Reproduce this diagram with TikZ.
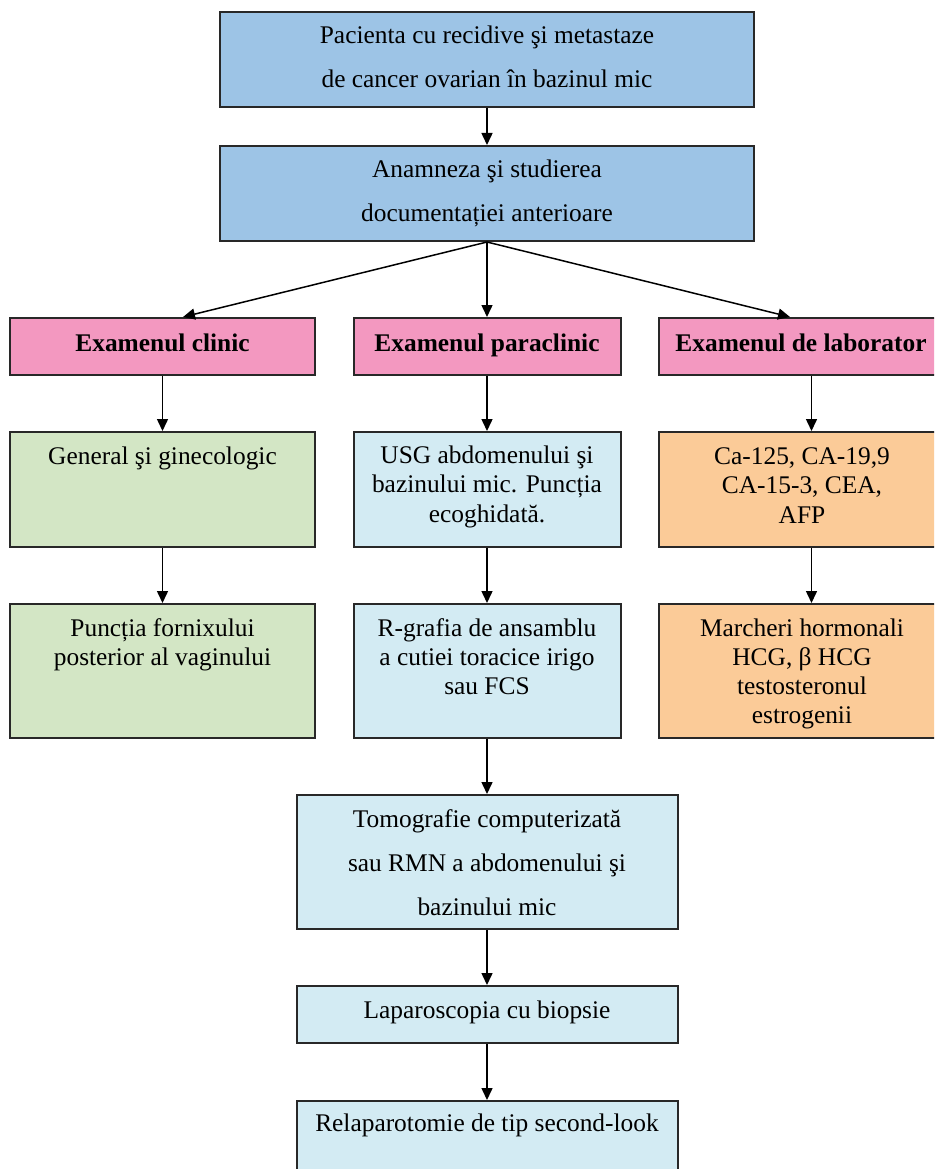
\documentclass[tikz,border=0pt]{standalone}
\usepackage{fontspec}
\setmainfont{Liberation Serif}
\usetikzlibrary{arrows.meta}
\definecolor{cblue}{RGB}{157,196,230}
\definecolor{cpink}{RGB}{243,152,192}
\definecolor{cgreen}{RGB}{211,230,197}
\definecolor{clight}{RGB}{211,235,243}
\definecolor{corange}{RGB}{251,203,152}
\definecolor{cborder}{RGB}{40,40,40}
\newcommand{\btext}[3]{\parbox[t]{#1pt}{\fontsize{25.4}{#2}\selectfont\centering #3\par}}
\tikzset{
  box/.style={draw=cborder, line width=2pt, rectangle, inner sep=0pt},
  txt/.style={anchor=base, inner sep=0pt, outer sep=0pt, font=\fontsize{25.4}{30}\selectfont},
  arr/.style={line width=1.5pt, -{Triangle[length=12pt,width=11pt]}},
}
\begin{document}
\begin{tikzpicture}[x=1pt,y=-1pt]
\useasboundingbox (0,0) rectangle (934,1169);
\clip (0,0) rectangle (934,1169);
% boxes
\node[box, fill=cblue, minimum width=534pt, minimum height=95pt] (pac) at (487,59.5) {};
\node[box, fill=cblue, minimum width=534pt, minimum height=95pt] (anam) at (487,193.5) {};
\node[box, fill=cpink, minimum width=305pt, minimum height=57pt] (clinic) at (162.5,346.5) {};
\node[box, fill=cpink, minimum width=267pt, minimum height=57pt] (para) at (487,346.5) {};
\node[box, fill=cpink, minimum width=305pt, minimum height=57pt] (lab) at (811.5,346.5) {};
\node[box, fill=cgreen, minimum width=305pt, minimum height=115pt] (gen) at (162.5,489.5) {};
\node[box, fill=clight, minimum width=267pt, minimum height=115pt] (usg) at (487,489.5) {};
\node[box, fill=corange, minimum width=305pt, minimum height=115pt] (ca) at (811.5,489.5) {};
\node[box, fill=cgreen, minimum width=305pt, minimum height=134pt] (punc) at (162.5,671) {};
\node[box, fill=clight, minimum width=267pt, minimum height=134pt] (rgraf) at (487,671) {};
\node[box, fill=corange, minimum width=305pt, minimum height=134pt] (marc) at (811.5,671) {};
\node[box, fill=clight, minimum width=381pt, minimum height=134pt] (tomo) at (487,862) {};
\node[box, fill=clight, minimum width=381pt, minimum height=57pt] (lap) at (487,1014.5) {};
\node[box, fill=clight, minimum width=381pt, minimum height=110pt] (relap) at (487,1156) {};
% texts
\node[txt] (tpac) at (487,44) {\btext{520}{44}{Pacienta cu recidive şi metastaze\\de cancer ovarian în bazinul mic}};
\node[txt] (tanam) at (487,178) {\btext{520}{44}{Anamneza şi studierea\\documentației anterioare}};
\node[txt, font=\fontsize{25.4}{30}\selectfont\bfseries] (tclinic) at (162.5,351) {Examenul clinic};
\node[txt, font=\fontsize{25.4}{30}\selectfont\bfseries] (tpara) at (487,351) {Examenul paraclinic};
\node[txt, font=\fontsize{25.4}{30}\selectfont\bfseries] (tlab) at (801,351) {Examenul de laborator};
\node[txt] (tgen) at (162.5,464) {General şi ginecologic};
\node[txt] (tusg) at (487,463) {\btext{260}{29.7}{USG abdomenului şi\\bazinului mic. Puncția\\ecoghidată.}};
\node[txt] (tca) at (802,464) {\btext{290}{29.7}{Ca-125, CA-19,9\\CA-15-3, CEA,\\AFP}};
\node[txt] (tpunc) at (162.5,636) {\btext{300}{29.3}{Puncția fornixului\\posterior al vaginului}};
\node[txt] (trgraf) at (487,636) {\btext{260}{29.3}{R-grafia de ansamblu\\a cutiei toracice irigo\\sau FCS}};
\node[txt] (tmarc) at (802,636) {\btext{290}{29.3}{Marcheri hormonali\\HCG, β HCG\\testosteronul\\estrogenii}};
\node[txt] (ttomo) at (487,827) {\btext{375}{44}{Tomografie computerizată\\sau RMN a abdomenului şi\\bazinului mic}};
\node[txt] (tlap) at (487,1018) {Laparoscopia cu biopsie};
\node[txt] (trelap) at (487,1131) {Relaparotomie de tip second-look};
% arrows
\draw[arr] (pac) -- (anam);
\draw[arr] (anam.south) -- ([xshift=20.5pt]clinic.north);
\draw[arr] (anam.south) -- (para.north);
\draw[arr] (anam.south) -- ([xshift=-21.5pt]lab.north);
\draw[arr] (clinic) -- (gen);
\draw[arr] (gen) -- (punc);
\draw[arr] (para) -- (usg);
\draw[arr] (usg) -- (rgraf);
\draw[arr] (rgraf) -- (tomo);
\draw[arr] (tomo) -- (lap);
\draw[arr] (lap) -- (relap);
\draw[arr] (lab) -- (ca);
\draw[arr] (ca) -- (marc);
\end{tikzpicture}
\end{document}
